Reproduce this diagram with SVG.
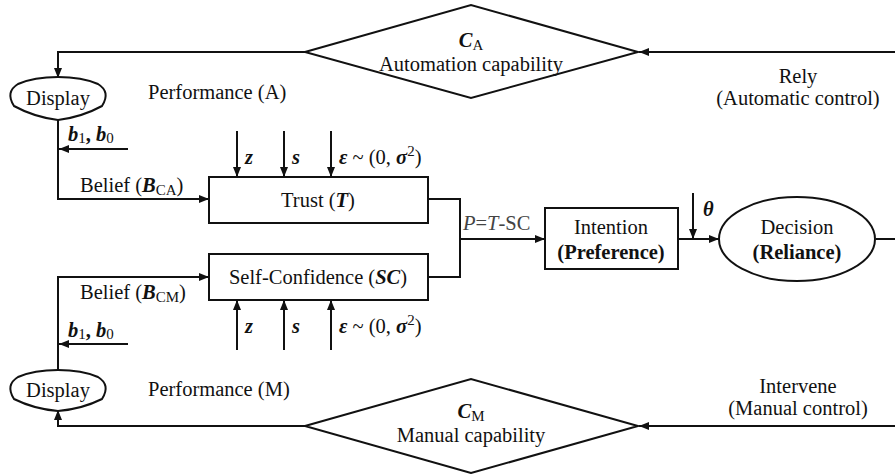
<svg xmlns="http://www.w3.org/2000/svg" width="895" height="474" viewBox="0 0 895 474">
<defs>
<marker id="ah" markerWidth="10" markerHeight="8" refX="10" refY="4" orient="auto" markerUnits="userSpaceOnUse"><path d="M0,0 L10,4 L0,8 Z" fill="#111"/></marker>
<style>
text{font-family:"Liberation Serif","Times New Roman",serif;font-size:20.5px;fill:#111}
.b{font-weight:bold}
.bi{font-weight:bold;font-style:italic}
.i{font-style:italic}
.sub{font-size:15px}
.m{text-anchor:middle}
.shape{fill:#fff;stroke:#111;stroke-width:2}
.c{fill:none;stroke:#111;stroke-width:2}
.ca{fill:none;stroke:#111;stroke-width:2;marker-end:url(#ah)}
</style>
</defs>
<rect width="895" height="474" fill="#fff"/>

<g id="connectors">
<path class="ca" d="M895,52 H639"/>
<path class="ca" d="M305,52 H58 V78"/>
<path class="ca" d="M58,119 V199 H209"/>
<path class="ca" d="M128,149 H59"/>
<path class="ca" d="M237,131 V177"/>
<path class="ca" d="M284,131 V177"/>
<path class="ca" d="M331,131 V177"/>
<path class="ca" d="M237,350 V300"/>
<path class="ca" d="M284,350 V300"/>
<path class="ca" d="M331,350 V300"/>
<path class="ca" d="M58,370 V277 H209"/>
<path class="ca" d="M128,344 H59"/>
<path class="ca" d="M895,426 H639"/>
<path class="ca" d="M305,426 H58 V410"/>
<path class="c" d="M428,199 H460 V277 H428"/>
<path class="ca" d="M460,239 H545"/>
<path class="ca" d="M678,239 H719"/>
<path class="ca" d="M693,193 V239"/>
<path class="c" d="M876,239 H895"/>
</g>

<g id="ca-diamond">
<polygon class="shape" points="305,52 471,5 638,52 471,98"/>
<text x="471" y="47" class="m"><tspan class="bi">C</tspan><tspan class="sub" dy="3">A</tspan></text>
<text x="471" y="71" class="m">Automation capability</text>
</g>

<g id="cm-diamond">
<polygon class="shape" points="305,426 471,379 638,426 471,473"/>
<text x="471" y="418" class="m"><tspan class="bi">C</tspan><tspan class="sub" dy="3">M</tspan></text>
<text x="471" y="442" class="m">Manual capability</text>
</g>

<g id="display-a">
<path class="shape" d="M14,106 Q5,92 18,84 Q34,77 58,77 Q82,77 98,84 Q111,92 102,106 Q82,117 58,120 Q34,117 14,106 Z"/>
<text x="58" y="105" class="m">Display</text>
</g>

<g id="display-m">
<path class="shape" d="M14,399 Q5,385 18,377 Q34,370 58,370 Q82,370 98,377 Q111,385 102,399 Q82,409 58,411 Q34,409 14,399 Z"/>
<text x="58" y="397" class="m">Display</text>
</g>

<g id="trust">
<rect class="shape" x="209" y="177" width="219" height="46"/>
<text x="318" y="207" class="m">Trust (<tspan class="bi">T</tspan>)</text>
</g>

<g id="self-confidence">
<rect class="shape" x="209" y="254" width="219" height="46"/>
<text x="318" y="284" class="m">Self-Confidence (<tspan class="bi">SC</tspan>)</text>
</g>

<g id="intention">
<rect class="shape" x="545" y="208" width="133" height="61"/>
<text x="611" y="234" class="m">Intention</text>
<text x="611" y="259" class="m b">(Preference)</text>
</g>

<g id="decision">
<ellipse class="shape" cx="797" cy="239" rx="78" ry="42"/>
<text x="797" y="234" class="m">Decision</text>
<text x="797" y="259" class="m b">(Reliance)</text>
</g>

<g id="labels">
<text x="148" y="99">Performance (A)</text>
<text x="148" y="396">Performance (M)</text>
<text x="798" y="83" class="m">Rely</text>
<text x="798" y="105" class="m">(Automatic control)</text>
<text x="798" y="393" class="m">Intervene</text>
<text x="798" y="415" class="m">(Manual control)</text>
<text x="80" y="192">Belief (<tspan class="bi">B</tspan><tspan class="sub" dy="3">CA</tspan><tspan dy="-3">)</tspan></text>
<text x="80" y="299">Belief (<tspan class="bi">B</tspan><tspan class="sub" dy="3">CM</tspan><tspan dy="-3">)</tspan></text>
<text x="68" y="141"><tspan class="bi">b</tspan><tspan class="sub" dy="2">1</tspan><tspan class="b" dy="-2">, </tspan><tspan class="bi">b</tspan><tspan class="sub" dy="2">0</tspan></text>
<text x="68" y="337"><tspan class="bi">b</tspan><tspan class="sub" dy="2">1</tspan><tspan class="b" dy="-2">, </tspan><tspan class="bi">b</tspan><tspan class="sub" dy="2">0</tspan></text>
<text x="245" y="164" class="bi">z</text>
<text x="292" y="164" class="bi">s</text>
<text x="339" y="164"><tspan class="bi">ε</tspan> ~ (0, <tspan class="bi">σ</tspan><tspan dy="-8" class="sub">2</tspan><tspan dy="8">)</tspan></text>
<text x="245" y="333" class="bi">z</text>
<text x="292" y="333" class="bi">s</text>
<text x="339" y="333"><tspan class="bi">ε</tspan> ~ (0, <tspan class="bi">σ</tspan><tspan dy="-8" class="sub">2</tspan><tspan dy="8">)</tspan></text>
<text x="463" y="230" style="fill:#444"><tspan class="i">P</tspan>=<tspan class="i">T</tspan>-SC</text>
<text x="703" y="216" class="bi">θ</text>
</g>
</svg>
